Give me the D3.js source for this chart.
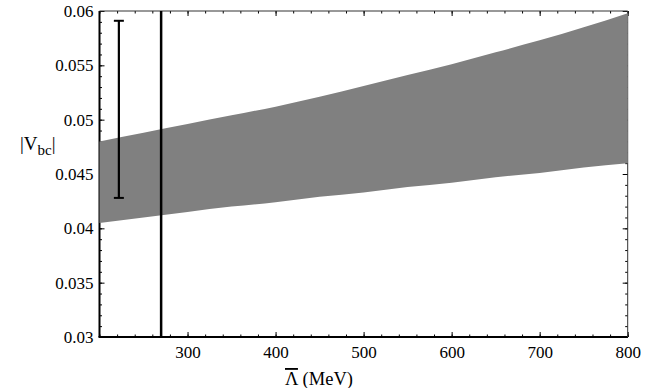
<!DOCTYPE html>
<html>
<head>
<meta charset="utf-8">
<script src="https://cdn.jsdelivr.net/npm/d3@7"></script>
<style>
  body { margin: 0; background: #fff; }
  .axis path { display: none; }
  .axis line { stroke: #000; }
</style>
</head>
<body>
<script>
'use strict';

// band edges
const lambdaVals = [200, 250, 300, 350, 400, 450, 500, 550, 600, 650, 700, 750, 800];
const vbcUpper = [0.0480, 0.0488, 0.0496, 0.0504, 0.0512, 0.0521, 0.0531, 0.0541, 0.0551, 0.0562, 0.0573, 0.0585, 0.0598];
const vbcLower = [0.0405, 0.0410, 0.0415, 0.0420, 0.0424, 0.0429, 0.0433, 0.0438, 0.0442, 0.0447, 0.0451, 0.0456, 0.0460];

// experimental error bar and vertical line
const errBarX = [222];
const errBarLow = [0.0428];
const errBarHigh = [0.0591];
const vLineX = [270];

const xTicks = [300, 400, 500, 600, 700, 800];
const yTicks = [0.03, 0.035, 0.04, 0.045, 0.05, 0.055, 0.06];

const W = 658, H = 388;
const pL = 99.5, pR = 627.7, pT = 11, pB = 337;
const serif = '"Liberation Serif", "Times New Roman", "DejaVu Serif", serif';

const svg = d3.select('body').append('svg')
  .attr('width', W)
  .attr('height', H);

const x = d3.scaleLinear().domain([200, 800]).range([pL, pR]);
const y = d3.scaleLinear().domain([0.03, 0.06]).range([pB, pT]);

const xMinor = d3.range(200, 801, 20);
const yMinor = d3.range(30, 61, 1).map(d => d / 1000);

// ticks on all four sides, pointing inward
function tickAxis(axisFn, scale, vals, size, tx, ty, fmt) {
  const a = axisFn(scale).tickValues(vals).tickSize(size).tickPadding(6);
  a.tickFormat(fmt || '');
  const g = svg.append('g')
    .attr('class', 'axis')
    .attr('transform', `translate(${tx},${ty})`)
    .attr('font-family', serif)
    .call(a);
  g.selectAll('line').attr('stroke-width', 1);
  return g;
}

tickAxis(d3.axisBottom, x, xMinor, -2.5, 0, pB);
tickAxis(d3.axisTop, x, xMinor, -2.5, 0, pT);
tickAxis(d3.axisLeft, y, yMinor, -2.5, pL, 0);
tickAxis(d3.axisRight, y, yMinor, -2.5, pR, 0);
tickAxis(d3.axisTop, x, xTicks, -5, 0, pT);
tickAxis(d3.axisRight, y, yTicks, -5, pR, 0);

const xAx = tickAxis(d3.axisBottom, x, xTicks, -5, 0, pB, d => String(d));
xAx.selectAll('text').attr('y', 9).attr('dy', '0.71em').style('font-size', '17px');
const yAx = tickAxis(d3.axisLeft, y, yTicks, -5, pL, 0, d => String(+d.toFixed(3)));
yAx.selectAll('text').attr('x', -6).style('font-size', '17px');

// frame
svg.append('line').attr('x1', pL).attr('x2', pL).attr('y1', pT).attr('y2', pB)
  .attr('stroke', '#000').attr('stroke-width', 2);
svg.append('line').attr('x1', pL - 1).attr('x2', pR).attr('y1', pB).attr('y2', pB)
  .attr('stroke', '#000').attr('stroke-width', 2);
svg.append('line').attr('x1', pL).attr('x2', pR).attr('y1', pT).attr('y2', pT)
  .attr('stroke', '#333').attr('stroke-width', 1);
svg.append('line').attr('x1', pR).attr('x2', pR).attr('y1', pT).attr('y2', pB)
  .attr('stroke', '#333').attr('stroke-width', 1);

// shaded band
const band = lambdaVals.map((l, i) => ({ l: l, lo: vbcLower[i], hi: vbcUpper[i] }));
const area = d3.area()
  .x(d => x(d.l))
  .y0(d => y(d.lo))
  .y1(d => y(d.hi))
  .curve(d3.curveNatural);
svg.append('path')
  .datum(band)
  .attr('fill', '#808080')
  .attr('d', area);

// vertical line
svg.selectAll('.vline')
  .data(vLineX)
  .enter()
  .append('line')
  .attr('x1', d => x(d)).attr('x2', d => x(d))
  .attr('y1', pT).attr('y2', pB)
  .attr('stroke', '#000')
  .attr('stroke-width', 2.5);

// error bar
errBarX.forEach((e, i) => {
  const g = svg.append('g');
  g.append('line')
    .attr('x1', x(e)).attr('x2', x(e))
    .attr('y1', y(errBarLow[i])).attr('y2', y(errBarHigh[i]))
    .attr('stroke', '#000').attr('stroke-width', 2.2);
  [errBarLow[i], errBarHigh[i]].forEach(v => {
    g.append('line')
      .attr('x1', x(e) - 5).attr('x2', x(e) + 5)
      .attr('y1', y(v)).attr('y2', y(v))
      .attr('stroke', '#000').attr('stroke-width', 2);
  });
});

// axis labels
const xl = svg.append('text')
  .attr('x', 285)
  .attr('y', 385)
  .style('font-family', serif)
  .style('font-size', '18.5px');
xl.append('tspan').style('text-decoration', 'overline').text('Λ');
xl.append('tspan').text(' (MeV)');

const yl = svg.append('text')
  .attr('x', 20)
  .attr('y', 150)
  .style('font-family', serif)
  .style('font-size', '19px');
yl.append('tspan').text('|V');
yl.append('tspan').attr('dy', 5).style('font-size', '15px').text('bc');
yl.append('tspan').attr('dy', -5).text('|');

svg.selectAll('text').style('font-family', serif).attr('fill', '#000');
</script>
</body>
</html>
